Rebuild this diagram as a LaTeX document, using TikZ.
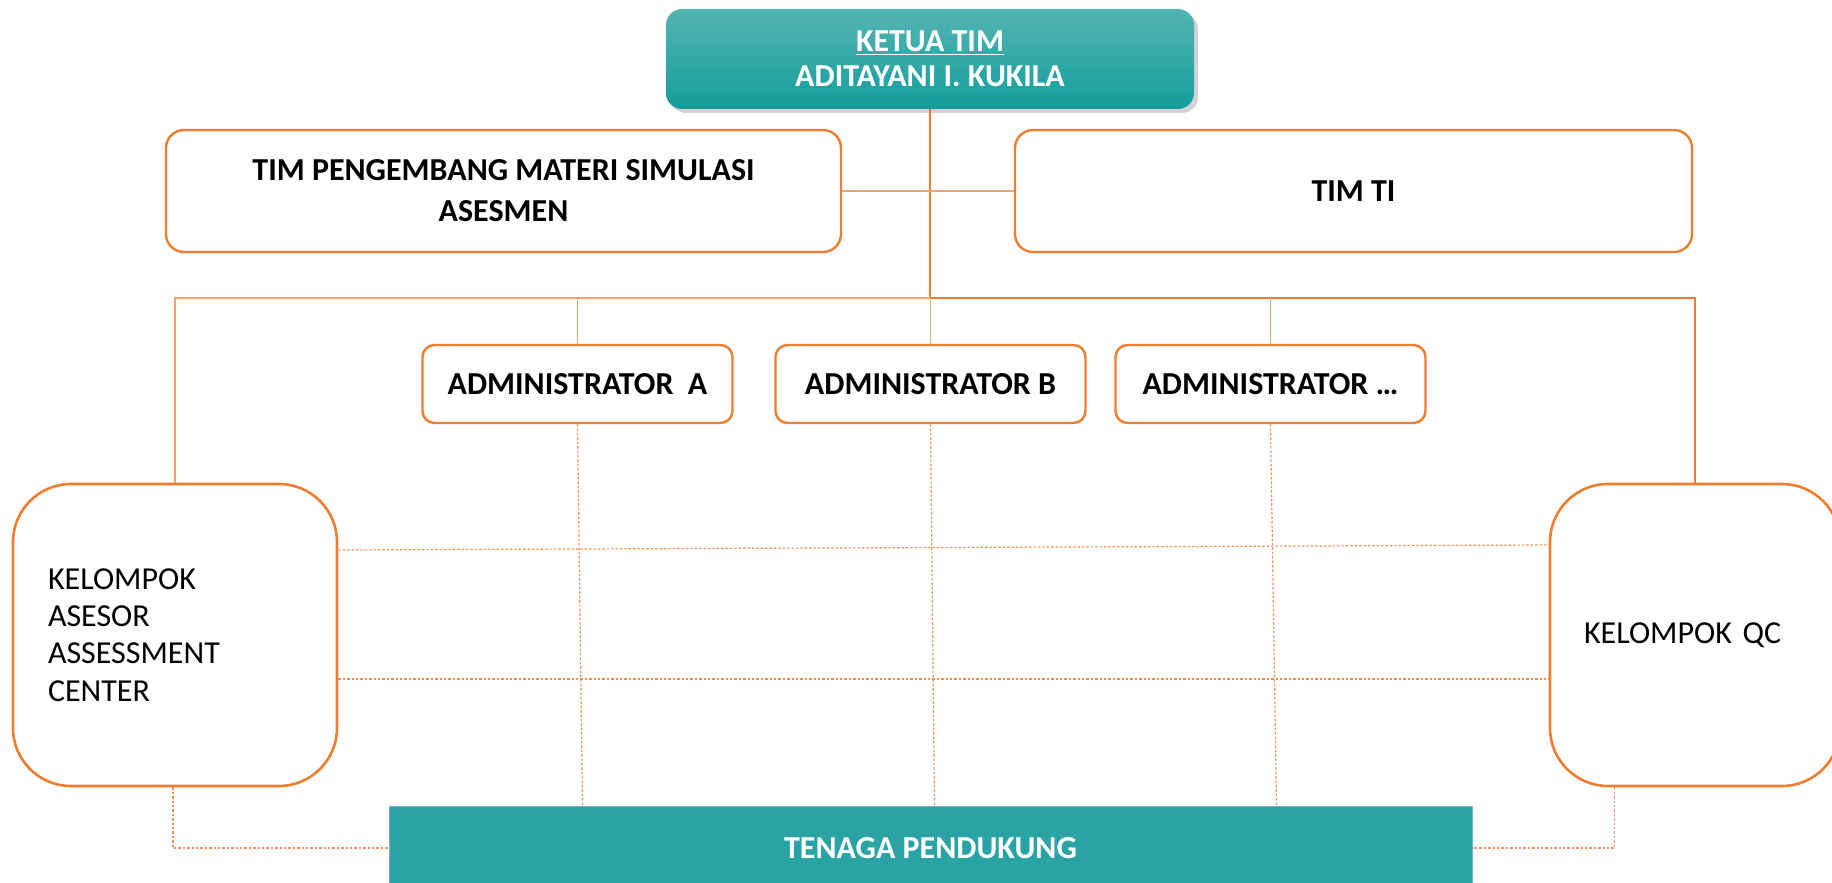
\documentclass[tikz,border=0pt]{standalone}
\usepackage{fontspec}
\setmainfont{Carlito}
\usetikzlibrary{positioning,shadows,calc}
\definecolor{orgorange}{HTML}{ED7D31}
\definecolor{tealtop}{HTML}{54B5B3}
\definecolor{tealbot}{HTML}{139D9C}
\definecolor{tealfill}{HTML}{2AA3A5}
\definecolor{tealedge}{HTML}{7FAFD0}

\tikzset{
    headbox/.style={draw=orgorange, line width=1.2pt, rounded corners=9pt, fill=white,
        align=center, font=\bfseries\fontsize{16}{20.5}\selectfont},
    adminbox/.style={headbox, rounded corners=6pt, minimum width=155pt, minimum height=39pt},
    groupbox/.style={draw=orgorange, line width=1.3pt, rounded corners=29pt, fill=white,
        align=left, inner xsep=17.5pt, minimum height=151pt,
        font=\fontsize{16}{18.7}\selectfont},
    link/.style={draw=orgorange, line width=0.7pt},
    softlink/.style={draw=orgorange!70, line width=0.7pt},
    dotlink/.style={draw=orgorange!85, line width=0.6pt, dash pattern=on 1.2pt off 1pt}
}

\begin{document}
\begin{tikzpicture}[x=0.5pt,y=-0.5pt]
    % Page frame.
    \clip (0,0) rectangle (1832,883);
    \fill[white] (0,0) rectangle (1832,883);

    % Team leader.
    \node[rounded corners=8pt, top color=tealtop, bottom color=tealbot, text=white,
        minimum width=264pt, minimum height=50pt, align=center,
        font=\bfseries\fontsize{16}{17.5}\selectfont,
        drop shadow={shadow xshift=2pt, shadow yshift=-2pt, opacity=0.35}]
        (ketua) at (930,59) {\underline{KETUA TIM}\\ADITAYANI I. KUKILA};

    % Second row.
    \node[headbox, minimum width=337.5pt, minimum height=61pt] (pengembang) at (503.5,191)
        {TIM PENGEMBANG MATERI SIMULASI\\ASESMEN};
    \node[headbox, minimum width=338.5pt, minimum height=61pt] (timti) at (1353.5,191) {TIM TI};

    % Administrators.
    \node[adminbox] (adminA) at (577.5,384) {ADMINISTRATOR\ \ A};
    \node[adminbox] (adminB) at (930.5,384) {ADMINISTRATOR B};
    \node[adminbox] (adminC) at (1270.5,384) {ADMINISTRATOR \dots};

    % Groups.
    \node[groupbox, text width=127pt] (asesor) at (175,635)
        {KELOMPOK\\ASESOR\\ASSESSMENT\\CENTER};
    \node[groupbox, inner xsep=17pt, text width=111pt] (qc) at (1695,635) {KELOMPOK QC};

    % Support staff.
    \node[fill=tealfill, draw=tealedge, line width=0.5pt, text=white,
        minimum width=541.5pt, minimum height=42pt,
        font=\bfseries\fontsize{16}{18}\selectfont] (tenaga) at (930.5,848) {TENAGA PENDUKUNG};

    % Solid lines.
    \coordinate (hub) at (930,298);
    \draw[link] (ketua.south) -- (hub);
    \draw[softlink] (pengembang.east) -- (timti.west);
    \draw[softlink] (asesor.north) |- (hub);
    \draw[link] (hub) -| (qc.north);
    \foreach \n in {adminA,adminB,adminC}
        \draw[softlink] (\n.north) -- (\n.north |- hub);

    % Dotted lines.
    \draw[dotlink] (asesor.east |- 0,550) -- (qc.west |- 0,545);
    \draw[dotlink] (asesor.east |- 0,679) -- (qc.west |- 0,679);
    \foreach \n/\s in {adminA/2.5pt,adminB/2pt,adminC/3pt}
        \draw[dotlink] (\n.south) -- ([xshift=\s]\n.south |- tenaga.north);
    \draw[dotlink] ([xshift=-1pt]asesor.south) |- (tenaga.west);
    \draw[dotlink] ([xshift=33pt]qc.south west) |- (tenaga.east);
\end{tikzpicture}
\end{document}
